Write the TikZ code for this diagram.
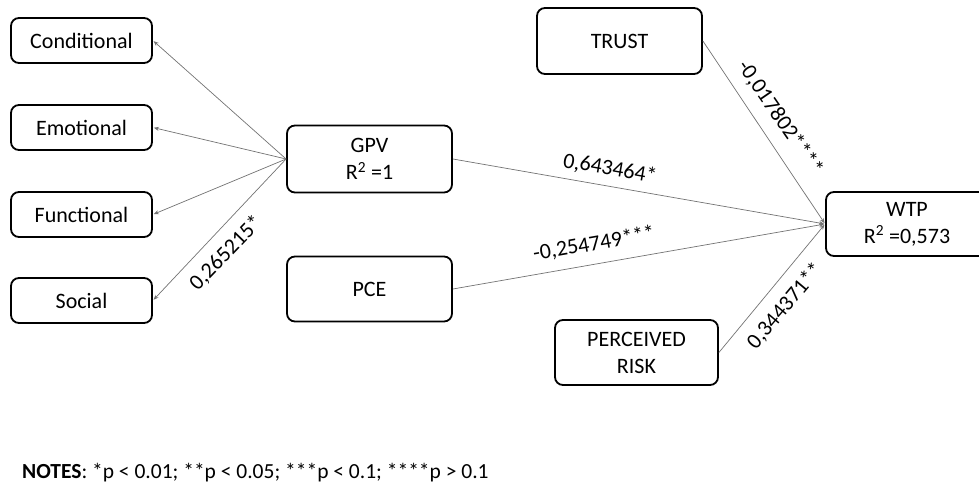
\documentclass[tikz,border=0pt]{standalone}
\usepackage{fontspec}
\setmainfont{Carlito}
\usetikzlibrary{arrows.meta}
\tikzset{
  box/.style={draw=black,line width=1.8pt,rounded corners=8pt,align=center,inner sep=0pt,font=\fontsize{22}{27}\selectfont},
  link/.style={draw=black!55,line width=0.7pt,-{Stealth[length=5pt,width=4pt]},shorten >=1pt},
  coef/.style={inner sep=0pt,font=\fontsize{22}{26}\selectfont}
}
\begin{document}
\begin{tikzpicture}[x=1pt,y=-1pt]
    \useasboundingbox (0,0) rectangle (979,486);
    \node[box,minimum width=141pt,minimum height=45pt] (cond) at (81.5,40.5) {Conditional};
    \node[box,minimum width=141pt,minimum height=45pt] (emo) at (81.5,127.5) {Emotional};
    \node[box,minimum width=141pt,minimum height=45pt] (func) at (81.5,214.5) {Functional};
    \node[box,minimum width=141pt,minimum height=45pt] (soc) at (81.5,300.5) {Social};
    \node[box,minimum width=165pt,minimum height=67pt] (gpv) at (369.5,159) {GPV\\R\textsuperscript{2} =1};
    \node[box,minimum width=165pt,minimum height=65pt] (pce) at (369.5,289) {PCE};
    \node[box,minimum width=165pt,minimum height=66pt] (trust) at (619.5,41) {TRUST};
    \node[box,minimum width=163pt,minimum height=65pt] (risk) at (636.5,352.5) {PERCEIVED\\RISK};
    \node[box,minimum width=162pt,minimum height=64pt] (wtp) at (907,224) {WTP\\R\textsuperscript{2} =0,573};

    \draw[link] (gpv.west) -- (cond.east);
    \draw[link] (gpv.west) -- (emo.east);
    \draw[link] (gpv.west) -- (func.east);
    \draw[link] (gpv.west) -- (soc.east);
    \draw[link] (gpv.east) -- (wtp.west);
    \draw[link] (pce.east) -- (wtp.west);
    \draw[link] (trust.east) -- (wtp.west);
    \draw[link] (risk.east) -- (wtp.west);

    \node[coef,rotate=46] (csoc) at (226,253) {0,265215*};
    \node[coef,rotate=-10] (cgpv) at (610,169) {0,643464*};
    \node[coef,rotate=10] (cpce) at (594,244) {-0,254749***};
    \node[coef,rotate=-55.5] (ctrust) at (780,118) {-0,017802****};
    \node[coef,rotate=50] (crisk) at (785,306) {0,344371**};

    \node[anchor=west,inner sep=0pt,font=\fontsize{21.5}{25}\selectfont] (notes) at (22,473) {\textbf{NOTES}: *p < 0.01; **p < 0.05; ***p < 0.1; ****p > 0.1};
\end{tikzpicture}
\end{document}
